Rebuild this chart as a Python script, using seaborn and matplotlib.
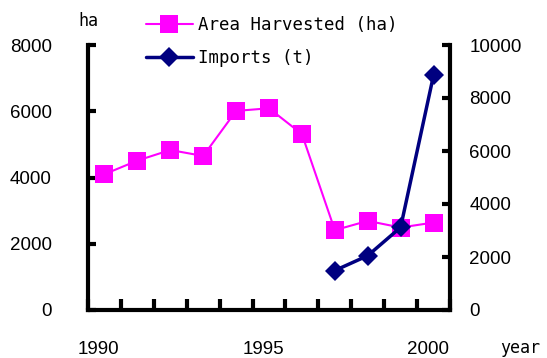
import numpy as np
import pandas as pd
import matplotlib
matplotlib.use("Agg")
import matplotlib.pyplot as plt
import matplotlib.transforms as mtransforms
import seaborn as sns

# donnees
years = [1990, 1991, 1992, 1993, 1994, 1995, 1996, 1997, 1998, 1999, 2000]
area_ha = [4100, 4510, 4830, 4650, 6010, 6090, 5310, 2410, 2690, 2490, 2640]
import_years = [1997, 1998, 1999, 2000]
imports_t = [1490, 2050, 3120, 8860]
year_labels = ["1990", "1995", "2000"]
left_ticks = [0, 2000, 4000, 6000, 8000]
right_ticks = [0, 2000, 4000, 6000, 8000, 10000]

sns.set_style("white")
plt.rcParams['font.family'] = ['Liberation Sans', 'DejaVu Sans']
plt.rcParams['text.color'] = 'black'
plt.rcParams['xtick.color'] = 'black'
plt.rcParams['ytick.color'] = 'black'

df_area = pd.DataFrame({"pos": [y - years[0] for y in years], "v": area_ha})
df_imp = pd.DataFrame({"pos": [y - years[0] for y in import_years], "v": imports_t})

fig = plt.figure(figsize=(5.47, 3.58), dpi=100)
ax = fig.add_axes([88/547, 1 - 310/358, (450 - 88)/547, (310 - 45)/358])
ax2 = ax.twinx()

sns.lineplot(data=df_area, x="pos", y="v", ax=ax, color="#ff00ff", marker="s",
             markersize=12.5, markeredgewidth=0, linewidth=1.5,
             label="Area Harvested (ha)", legend=False)
sns.lineplot(data=df_imp, x="pos", y="v", ax=ax2, color="#000080", marker="D",
             markersize=10, markeredgewidth=0, linewidth=2.5,
             label="Imports (t)", legend=False)

ax.set_xlim(-0.5, 10.5)
ax.set_ylim(0, 8000)
ax2.set_ylim(0, 10000)

ax.set_yticks(left_ticks)
ax2.set_yticks(right_ticks)
ax.set_xticks([0, 5, 10])
ax.set_xticklabels(year_labels)
ax.set_xticks(np.arange(-0.5, 11, 1), minor=True)

for a in (ax, ax2):
    a.set_xlabel("")
    a.set_ylabel("")
    a.spines['top'].set_visible(False)
    for s in ('left', 'right', 'bottom'):
        a.spines[s].set_linewidth(3)
        a.spines[s].set_color("black")

ax.spines['right'].set_visible(False)
ax2.spines['left'].set_visible(False)
ax2.spines['bottom'].set_visible(False)

ax.tick_params(axis='x', which='major', bottom=True, length=0, pad=22, labelsize=13.5,
               labelcolor='black')
ax.tick_params(axis='x', which='minor', bottom=True, direction='in', length=8, width=3,
               color='black')
ax.tick_params(axis='y', direction='in', length=6, width=3, pad=26, labelsize=13.5,
               left=True, color='black', labelcolor='black')
ax2.tick_params(axis='y', direction='in', length=6, width=3, pad=14, labelsize=13.5,
                right=True, color='black', labelcolor='black')

# les annees sont un peu decalees a gauche dans l'original
shift = mtransforms.ScaledTranslation(-6/100, 0, fig.dpi_scale_trans)
for lab in ax.get_xticklabels():
    lab.set_transform(lab.get_transform() + shift)

mono = ['DejaVu Sans Mono']
fig.text(88/547, 1 - 21/358, "ha", ha='center', va='center', fontsize=12, family=mono)
fig.text(520/547, 1 - 348/358, "year", ha='center', va='center', fontsize=12, family=mono)

h1, l1 = ax.get_legend_handles_labels()
h2, l2 = ax2.get_legend_handles_labels()
fig.legend(h1 + h2, l1 + l2, loc='upper left', bbox_to_anchor=(130/547, 1.0),
           frameon=False, prop={'family': mono, 'size': 12.5},
           handlelength=2.7, handletextpad=0.3, labelspacing=0.9)

fig.savefig("out.png", dpi=100)
